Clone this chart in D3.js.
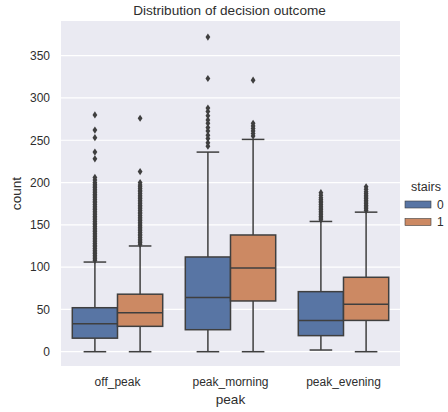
<!DOCTYPE html>
<html>
<head>
<meta charset="utf-8">
<script src="https://cdn.jsdelivr.net/npm/d3@7"></script>
<style>
  html, body { margin: 0; padding: 0; background: #ffffff; }
  svg { display: block; font-family: "Liberation Sans", Arial, sans-serif; }
</style>
</head>
<body>
<svg id="chart" width="448" height="412"></svg>
<script>
// Categories and hue levels
const peaks = ["off_peak", "peak_morning", "peak_evening"];
const stairsLevels = ["0", "1"];
const yTicks = [0, 50, 100, 150, 200, 250, 300, 350];

// Box statistics per (peak, stairs): [whiskerLow, q1, median, q3, whiskerHigh]
const boxStats0 = [
  [0, 16, 33, 52, 106],    // off_peak
  [0, 26, 64, 112, 236],   // peak_morning
  [2, 19, 37, 71, 154]     // peak_evening
];
const boxStats1 = [
  [0, 30, 46, 68, 125],
  [0, 60, 99, 138, 251],
  [0, 37, 56, 88, 165]
];

// Flier values per (peak, stairs)
const fliers0 = [
  [108, 110, 112, 114, 116, 118, 120, 122, 124, 126, 128, 130, 132, 134, 136, 138, 140,
   142, 144, 146, 148, 150, 152, 154, 156, 158, 160, 162, 164, 166, 168, 170, 172, 174,
   176, 178, 180, 182, 184, 186, 188, 190, 192, 194, 196, 198, 200, 203, 206,
   228, 236, 253, 262, 280],
  [243, 247, 252, 256, 261, 265, 270, 274, 279, 284, 288, 323, 372],
  [156, 158, 160, 162, 164, 166, 168, 170, 172, 174, 176, 178, 180, 182, 185, 188]
];
const fliers1 = [
  [127, 129, 131, 133, 135, 137, 139, 141, 143, 145, 147, 149, 151, 153, 155, 157, 159,
   161, 163, 165, 167, 169, 171, 173, 175, 177, 179, 181, 183, 185, 187, 189, 191, 193,
   195, 197, 200, 213, 276],
  [255, 258, 261, 264, 267, 270, 321],
  [167, 169, 171, 173, 175, 177, 179, 181, 183, 185, 187, 189, 192, 195]
];

const fills = ["#5875a4", "#cc8963"];
const lineColor = "#3f3f3f";
const textColor = "#2e2e2e";

const svg = d3.select("#chart");
const margin = { left: 61, right: 48, top: 21, bottom: 46 };
const W = 448, H = 412;
const plotL = margin.left, plotR = W - margin.right;
const plotT = margin.top, plotB = H - margin.bottom;

const x = d3.scaleBand().domain(peaks).range([plotL, plotR]).padding(0);
const y = d3.scaleLinear().domain([-16.9, 391]).range([plotB, plotT]);
const hueX = d3.scaleBand().domain(stairsLevels).range([0, x.bandwidth() * 0.8]);

// Plot background
svg.append("rect")
  .attr("x", plotL).attr("y", plotT)
  .attr("width", plotR - plotL).attr("height", plotB - plotT)
  .attr("fill", "#eaeaf2");

// Horizontal grid
svg.append("g")
  .selectAll("line")
  .data(yTicks)
  .join("line")
  .attr("x1", plotL).attr("x2", plotR)
  .attr("y1", d => y(d)).attr("y2", d => y(d))
  .attr("stroke", "#ffffff").attr("stroke-width", 1.2);

// Y axis (labels only, seaborn style)
const yAxis = d3.axisLeft(y).tickValues(yTicks).tickSize(0).tickPadding(11);
const gy = svg.append("g").attr("transform", `translate(${plotL},0)`).call(yAxis);
gy.select(".domain").remove();
gy.selectAll("text").attr("fill", textColor).style("font-size", "12px")
  .style("font-family", "'Liberation Sans', Arial, sans-serif");

// X axis
const xAxis = d3.axisBottom(x).tickSize(0).tickPadding(11);
const gx = svg.append("g").attr("transform", `translate(0,${plotB})`).call(xAxis);
gx.select(".domain").remove();
gx.selectAll("text").attr("fill", textColor).style("font-size", "12px")
  .style("font-family", "'Liberation Sans', Arial, sans-serif");

// Assemble box records from the arrays
const boxes = [];
peaks.forEach((p, i) => {
  [boxStats0, boxStats1].forEach((stats, h) => {
    const s = stats[i];
    boxes.push({
      peak: p, hue: stairsLevels[h], h,
      lo: s[0], q1: s[1], med: s[2], q3: s[3], hi: s[4],
      fliers: (h === 0 ? fliers0 : fliers1)[i]
    });
  });
});

const boxW = hueX.bandwidth();
const gBoxes = svg.append("g");
boxes.forEach(b => {
  const x0 = x(b.peak) + x.bandwidth() * 0.1 + hueX(b.hue);
  const cx = x0 + boxW / 2;
  const g = gBoxes.append("g");
  // whiskers
  g.append("line").attr("x1", cx).attr("x2", cx).attr("y1", y(b.q1)).attr("y2", y(b.lo))
    .attr("stroke", lineColor).attr("stroke-width", 1.5);
  g.append("line").attr("x1", cx).attr("x2", cx).attr("y1", y(b.q3)).attr("y2", y(b.hi))
    .attr("stroke", lineColor).attr("stroke-width", 1.5);
  // caps
  [b.lo, b.hi].forEach(v => {
    g.append("line").attr("x1", cx - boxW / 4).attr("x2", cx + boxW / 4)
      .attr("y1", y(v)).attr("y2", y(v))
      .attr("stroke", lineColor).attr("stroke-width", 1.5);
  });
  // box
  g.append("rect")
    .attr("x", x0).attr("y", y(b.q3))
    .attr("width", boxW).attr("height", y(b.q1) - y(b.q3))
    .attr("fill", fills[b.h]).attr("stroke", lineColor).attr("stroke-width", 1.5);
  // median
  g.append("line").attr("x1", x0).attr("x2", x0 + boxW)
    .attr("y1", y(b.med)).attr("y2", y(b.med))
    .attr("stroke", lineColor).attr("stroke-width", 1.5);
  // fliers as thin diamonds
  g.selectAll("path.flier")
    .data(b.fliers)
    .join("path")
    .attr("class", "flier")
    .attr("d", "M0,-3.6L2.4,0L0,3.6L-2.4,0Z")
    .attr("transform", d => `translate(${cx},${y(d)})`)
    .attr("fill", lineColor);
});

// Title
svg.append("text")
  .attr("x", (plotL + plotR) / 2 - 1).attr("y", 14.5)
  .attr("text-anchor", "middle")
  .attr("fill", textColor).style("font-size", "13.6px")
  .text("Distribution of decision outcome");

// Axis labels
svg.append("text")
  .attr("x", (plotL + plotR) / 2).attr("y", 403.5)
  .attr("text-anchor", "middle")
  .attr("fill", textColor).style("font-size", "13.6px")
  .text("peak");
svg.append("text")
  .attr("transform", `translate(20.5,${(plotT + plotB) / 2}) rotate(-90)`)
  .attr("text-anchor", "middle")
  .attr("fill", textColor).style("font-size", "13.6px")
  .text("count");

// Legend
const lg = svg.append("g");
lg.append("text").attr("x", 426).attr("y", 191).attr("text-anchor", "middle")
  .attr("fill", textColor).style("font-size", "12.5px").text("stairs");
stairsLevels.forEach((lv, i) => {
  const yy = 201 + i * 17.5;
  lg.append("rect").attr("x", 405).attr("y", yy).attr("width", 26).attr("height", 7)
    .attr("fill", fills[i]).attr("stroke", lineColor).attr("stroke-width", 0.6);
  lg.append("text").attr("x", 437).attr("y", yy + 7.5)
    .attr("fill", textColor).style("font-size", "12px").text(lv);
});
</script>
</body>
</html>
